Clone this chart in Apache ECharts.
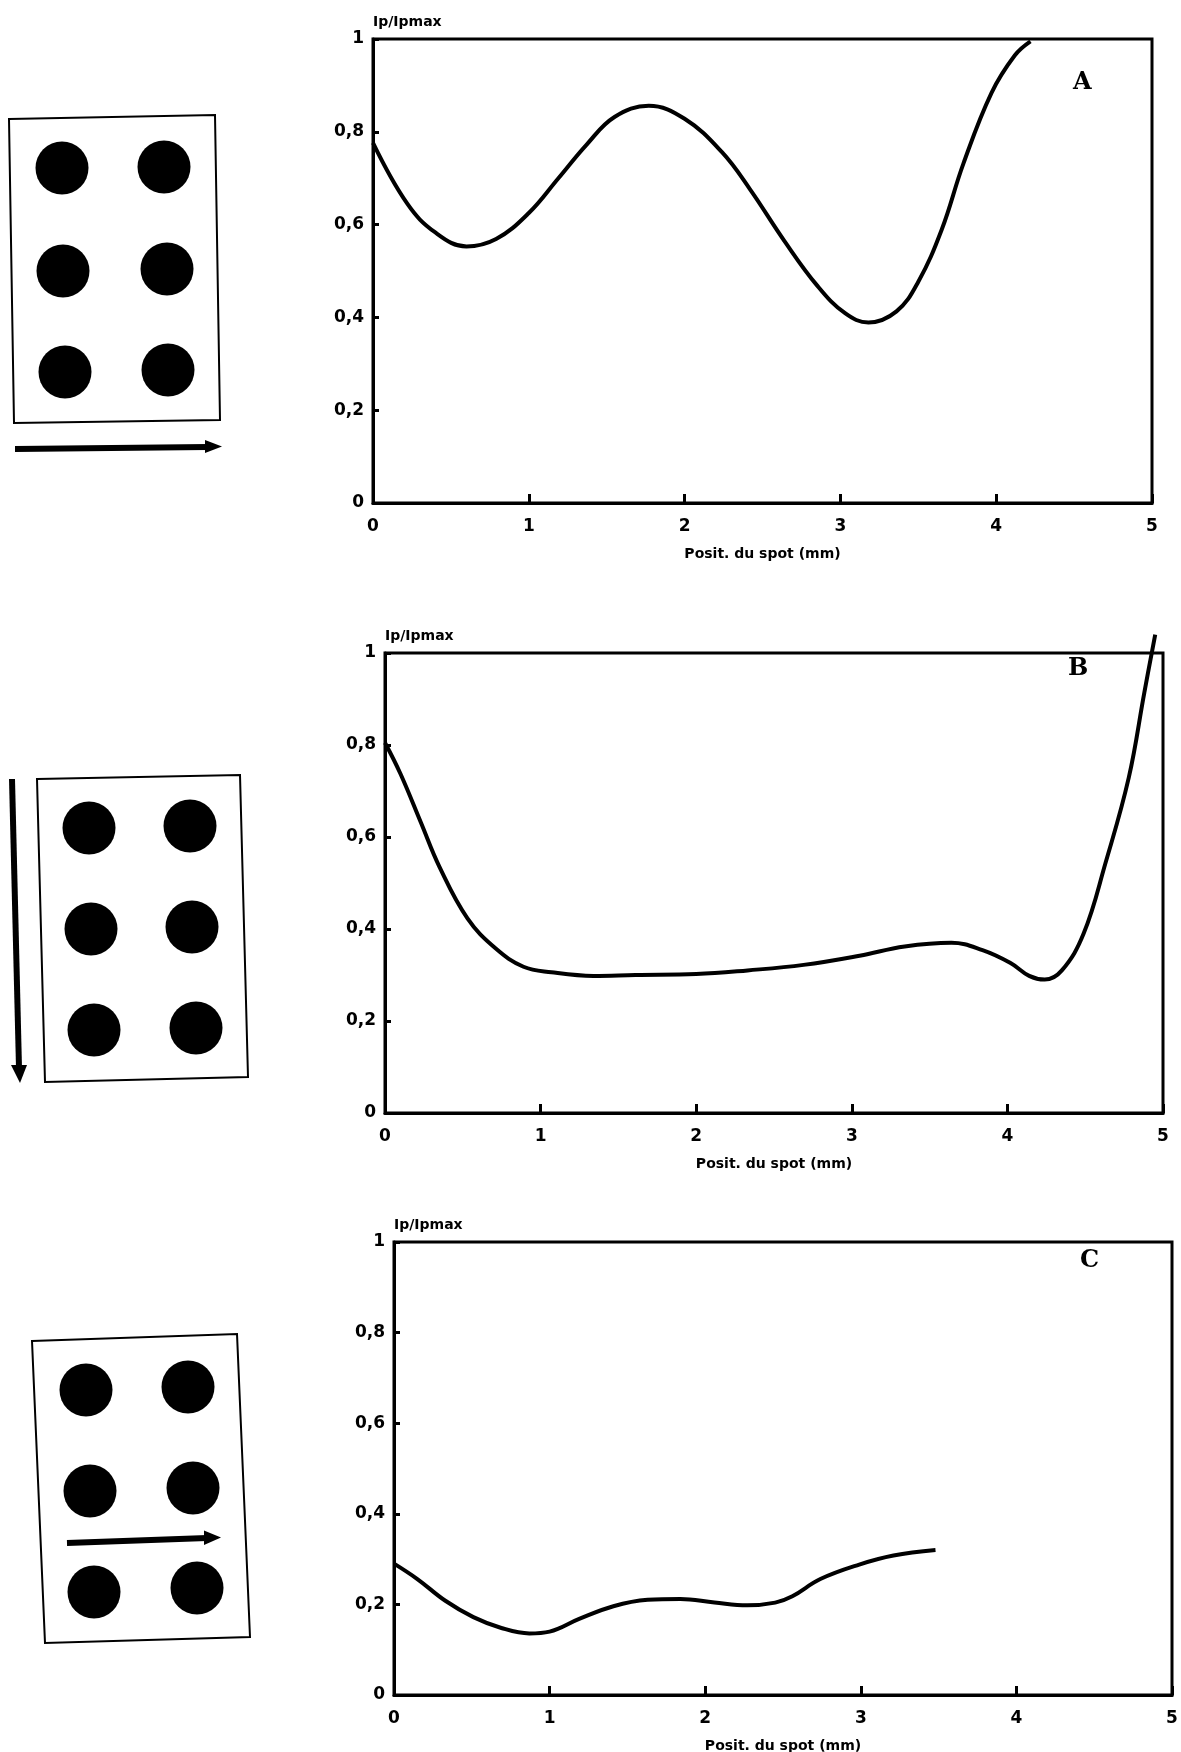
<!DOCTYPE html>
<html>
<head>
<meta charset="utf-8">
<title>Ip/Ipmax</title>
<script src="https://cdn.jsdelivr.net/npm/echarts@6/dist/echarts.min.js"></script>
<style>
html, body { margin: 0; padding: 0; background: #fff; }
#main { width: 1181px; height: 1752px; }
</style>
</head>
<body>
<div id="main"></div>
<script>
var yTickLabels = ['0', '0,2', '0,4', '0,6', '0,8', '1'];
var xTickLabels = ['0', '1', '2', '3', '4', '5'];
var panelNames = ['A', 'B', 'C'];

// courbe A
var posA = [0, 0.22, 0.4, 0.6, 0.79, 1.0, 1.19, 1.37, 1.55, 1.77, 2.0, 2.24, 2.42, 2.64, 2.85, 3.03, 3.18, 3.36, 3.5, 3.65, 3.79, 3.97, 4.12, 4.22];
var valA = [0.776, 0.645, 0.583, 0.553, 0.569, 0.625, 0.70, 0.772, 0.832, 0.856, 0.828, 0.756, 0.676, 0.565, 0.469, 0.409, 0.389, 0.413, 0.477, 0.589, 0.732, 0.884, 0.965, 0.995];
// courbe B
var posB = [0, 0.10, 0.23, 0.35, 0.53, 0.71, 0.89, 1.07, 1.34, 1.61, 2.0, 2.33, 2.69, 3.05, 3.34, 3.64, 3.84, 4.02, 4.14, 4.24, 4.35, 4.49, 4.63, 4.78, 4.88, 4.95];
var valB = [0.805, 0.737, 0.632, 0.535, 0.423, 0.358, 0.318, 0.306, 0.298, 0.300, 0.302, 0.310, 0.322, 0.342, 0.362, 0.370, 0.354, 0.326, 0.298, 0.290, 0.31, 0.39, 0.543, 0.729, 0.914, 1.04];
// courbe C
var posC = [0, 0.15, 0.33, 0.51, 0.69, 0.87, 1.0, 1.19, 1.41, 1.63, 1.84, 2.06, 2.27, 2.45, 2.56, 2.74, 2.99, 3.21, 3.48];
var valC = [0.29, 0.256, 0.208, 0.172, 0.148, 0.136, 0.14, 0.168, 0.196, 0.21, 0.212, 0.204, 0.198, 0.204, 0.218, 0.256, 0.288, 0.308, 0.32];

function pairs(xs, ys) {
    var out = [];
    for (var i = 0; i < xs.length; i++) {
        out.push([xs[i], ys[i]]);
    }
    return out;
}

var grids = [
    { left: 373, top: 39, width: 779, height: 464 },
    { left: 385, top: 653, width: 778, height: 460 },
    { left: 394, top: 1242, width: 778, height: 453 }
];

var font = 'DejaVu Sans';
var xAxes = [], yAxes = [], series = [], titles = [];
var curves = [pairs(posA, valA), pairs(posB, valB), pairs(posC, valC)];
var letterPos = [[1073, 71], [1068, 657], [1080, 1249]];

for (var g = 0; g < 3; g++) {
    grids[g].show = true;
    grids[g].borderColor = '#000';
    grids[g].borderWidth = 3;
    grids[g].outerBoundsMode = 'none';
    xAxes.push({
        gridIndex: g,
        type: 'value',
        min: 0,
        max: 5,
        interval: 1,
        axisLine: { show: true, onZero: false, lineStyle: { color: '#000', width: 3 } },
        axisTick: { show: true, inside: true, length: 9, lineStyle: { color: '#000', width: 3 } },
        splitLine: { show: false },
        axisLabel: {
            color: '#000', fontFamily: font, fontWeight: 'bold', fontSize: 17, margin: 15,
            formatter: function (v) { return xTickLabels[Math.round(v)]; }
        },
        name: 'Posit. du spot (mm)',
        nameLocation: 'middle',
        nameGap: 44,
        nameTextStyle: { color: '#000', fontFamily: font, fontWeight: 'bold', fontSize: 14 }
    });
    yAxes.push({
        gridIndex: g,
        type: 'value',
        min: 0,
        max: 1,
        interval: 0.2,
        axisLine: { show: true, onZero: false, lineStyle: { color: '#000', width: 3 } },
        axisTick: { show: true, inside: true, length: 6, lineStyle: { color: '#000', width: 3 } },
        splitLine: { show: false },
        axisLabel: {
            color: '#000', fontFamily: font, fontWeight: 'bold', fontSize: 17, margin: 9,
            formatter: function (v) { return yTickLabels[Math.round(v / 0.2)]; }
        },
        name: 'Ip/Ipmax',
        nameLocation: 'end',
        nameGap: 17,
        nameTextStyle: { color: '#000', fontFamily: font, fontWeight: 'bold', fontSize: 14, align: 'left', verticalAlign: 'middle' }
    });
    series.push({
        type: 'line',
        xAxisIndex: g,
        yAxisIndex: g,
        data: curves[g],
        smooth: 0.4,
        showSymbol: false,
        clip: false,
        lineStyle: { color: '#000', width: 4 }
    });
    titles.push({
        text: panelNames[g],
        left: letterPos[g][0],
        top: letterPos[g][1],
        padding: 0,
        textStyle: { color: '#000', fontFamily: 'DejaVu Serif', fontWeight: 'bold', fontSize: 24 }
    });
}

// cellules braille (dessin a gauche)
function cell(box, dots, shaft, head) {
    var els = [];
    els.push({ type: 'polygon', shape: { points: box }, style: { fill: '#fff', stroke: '#000', lineWidth: 2 } });
    for (var i = 0; i < dots.length; i++) {
        els.push({ type: 'circle', shape: { cx: dots[i][0], cy: dots[i][1], r: 26.5 }, style: { fill: '#000' } });
    }
    els.push({ type: 'polyline', shape: { points: shaft }, style: { stroke: '#000', lineWidth: 6, fill: null } });
    els.push({ type: 'polygon', shape: { points: head }, style: { fill: '#000' } });
    return els;
}

var graphics = [].concat(
    cell([[9, 119], [215, 115], [220, 420], [14, 423]],
        [[62, 168], [164, 167], [63, 271], [167, 269], [65, 372], [168, 370]],
        [[15, 449], [208, 447]],
        [[205, 440], [222, 446.5], [205, 453]]),
    cell([[37, 779], [240, 775], [248, 1077], [45, 1082]],
        [[89, 828], [190, 826], [91, 929], [192, 927], [94, 1030], [196, 1028]],
        [[12, 779], [19, 1068]],
        [[11, 1065], [20, 1083], [27, 1065]]),
    cell([[32, 1341], [237, 1334], [250, 1637], [45, 1643]],
        [[86, 1390], [188, 1387], [90, 1491], [193, 1488], [94, 1592], [197, 1588]],
        [[67, 1543], [207, 1538]],
        [[204, 1530.5], [221, 1537.5], [204, 1545]])
);

var chart = echarts.init(document.getElementById('main'));
chart.setOption({
    animation: false,
    backgroundColor: '#fff',
    title: titles,
    grid: grids,
    xAxis: xAxes,
    yAxis: yAxes,
    series: series,
    graphic: graphics
});
</script>
</body>
</html>
